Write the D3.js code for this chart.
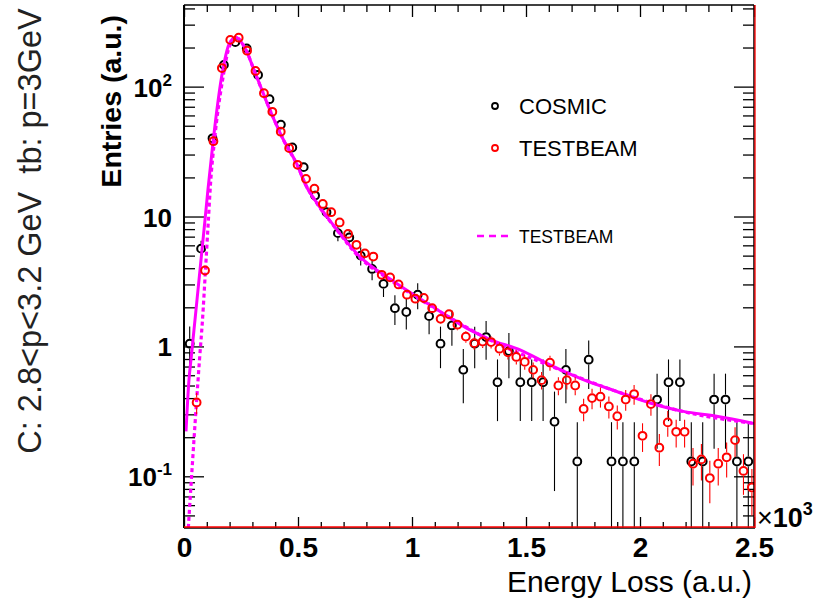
<!DOCTYPE html>
<html><head><meta charset="utf-8">
<script src="https://cdn.jsdelivr.net/npm/d3@7"></script>
<style>
body{margin:0;background:#fff;}
svg{display:block;font-family:"Liberation Sans",Arial,Helvetica,sans-serif;}
text{white-space:pre;}
</style>
</head><body>
<svg id="chart" width="823" height="601"></svg>
<script>
// ---------------- data ----------------
const xTickValues = [0, 0.5, 1, 1.5, 2, 2.5];
const xTickLabels = ["0", "0.5", "1", "1.5", "2", "2.5"];
const yTickValues = [0.1, 1, 10, 100];
const yTickBase = ["10", "1", "10", "10"];
const yTickExp = ["-1", "", "", "2"];

const legendLabels = ["COSMIC", "TESTBEAM", "TESTBEAM"];
const titleLeft = "C: 2.8<p<3.2 GeV  tb: p=3GeV";
const titleX = "Energy Loss (a.u.)";
const titleY = "Entries (a.u.)";

// COSMIC histogram: 50 bins of 0.05 (x10^3)
const cosmicBinWidth = 0.05;
const cosmicValues = [1.05, 5.66, 40, 147, 220, 197, 123, 80, 51, 34,
  24, 14.5, 10.8, 7.45, 6.9, 5.0, 3.95, 3.03, 1.97, 1.84,
  2.5, 1.71, 1.05, 1.45, 0.66, 1.05, 1.18, 0.53, 0.92, 0.53,
  0.53, 0.53, 0.263, 0.66, 0.13, 0.79, null, 0.13, 0.13, 0.13,
  null, 0.39, 0.53, 0.53, 0.13, 0.13, 0.39, 0.39, 0.13, 0.13];
const cosmicErrors = [0.372, 0.862, 2.29, 4.4, 5.38, 5.09, 4.02, 3.24, 2.59, 2.12,
  1.78, 1.38, 1.19, 0.99, 0.95, 0.81, 0.72, 0.63, 0.51, 0.49,
  0.57, 0.47, 0.37, 0.44, 0.295, 0.37, 0.39, 0.264, 0.35, 0.264,
  0.264, 0.264, 0.186, 0.295, 0.131, 0.32, null, 0.131, 0.131, 0.131,
  null, 0.227, 0.264, 0.264, 0.131, 0.131, 0.227, 0.227, 0.131, 0.131];

// TESTBEAM histogram: 68 bins
const testbeamBinWidth = 0.0369;
const testbeamValues = [null, 0.37, 3.84, 38, 139, 229, 238, 189, 132, 89,
  64, 45, 33.6, 25, 19.5, 16.4, 12.5, 10.8, 9.0, 7.35,
  6.06, 5.2, 4.92, 3.56, 3.4, 3.0, 2.5, 2.33, 2.36, 1.97,
  1.63, 1.77, 1.47, 1.19, 1.06, 1.09, 1.08, 0.96, 0.9, 0.83,
  0.76, 0.66, 0.55, 0.75, 0.5, 0.55, 0.5, 0.33, 0.40, 0.41,
  0.345, 0.29, 0.39, 0.43, 0.205, 0.36, 0.166, 0.26, 0.22, 0.22,
  0.125, 0.135, 0.097, 0.125, 0.14, 0.19, 0.11, 0.082];
const testbeamErrors = [null, 0.069, 0.22, 0.70, 1.33, 1.71, 1.75, 1.56, 1.30, 1.07,
  0.905, 0.76, 0.656, 0.566, 0.5, 0.458, 0.4, 0.372, 0.339, 0.307,
  0.279, 0.258, 0.251, 0.213, 0.209, 0.196, 0.179, 0.173, 0.174, 0.159,
  0.144, 0.151, 0.137, 0.123, 0.116, 0.118, 0.118, 0.111, 0.107, 0.103,
  0.099, 0.092, 0.084, 0.099, 0.08, 0.084, 0.08, 0.065, 0.072, 0.072,
  0.066, 0.061, 0.071, 0.074, 0.051, 0.068, 0.046, 0.058, 0.053, 0.053,
  0.04, 0.042, 0.035, 0.04, 0.042, 0.049, 0.038, 0.032];

// fit curves
const fitSolidX = [0.0088, 0.0219, 0.0307, 0.0482, 0.0702, 0.0921, 0.105, 0.1285, 0.165, 0.199,
  0.228, 0.26, 0.319, 0.377, 0.436, 0.494, 0.531, 0.582, 0.655, 0.772,
  0.904, 1.123, 1.254, 1.342, 1.474, 1.605, 1.751, 1.898, 2.044, 2.19, 2.336, 2.5];
const fitSolidY = [0.222, 0.555, 0.79, 1.6, 3.89, 9.4, 16.1, 39, 119, 215,
  240, 209, 119, 66, 39, 25.5, 17.8, 12.8, 8.6, 4.9,
  3.3, 1.86, 1.34, 1.13, 0.94, 0.72, 0.555, 0.45, 0.367, 0.316, 0.29, 0.255];
const fitDashedX = [0.0189, 0.0351, 0.0526, 0.068, 0.0811, 0.0943, 0.107, 0.116, 0.134, 0.169,
  0.202, 0.232, 0.263, 0.32, 0.379, 0.439, 0.496, 0.535, 0.583, 0.658,
  0.772, 0.904, 1.123, 1.342, 1.605, 1.898, 2.19, 2.5];
const fitDashedY = [0.040, 0.112, 0.326, 0.79, 1.6, 3.9, 9.4, 17.5, 39, 112,
  210, 237, 205, 117, 65, 38, 25, 17.4, 12.6, 8.4,
  4.8, 3.25, 1.85, 1.12, 0.71, 0.45, 0.315, 0.255];

// ---------------- drawing ----------------
const svg = d3.select("#chart");
const L = 184, R = 754, T = 5, B = 528;
const x = d3.scaleLinear().domain([0, 2.5]).range([L, R]);
const y = d3.scaleLog().domain([0.04, 425]).range([B, T]);

svg.append("rect").attr("width", 823).attr("height", 601).attr("fill", "#fff");

svg.append("defs").append("clipPath").attr("id", "plotclip")
  .append("rect").attr("x", L).attr("y", T).attr("width", R - L).attr("height", B - T);

// minor tick values
const xMinor = d3.range(0, 26).map(i => i / 10).filter(v => !xTickValues.some(t => Math.abs(t - v) < 1e-9));
const yMinor = [];
[0.01, 0.1, 1, 10, 100].forEach(dec => { for (let k = 2; k <= 9; k++) { const v = k * dec; if (v > 0.04 && v < 425) yMinor.push(v); } });

function styleAxis(g) { g.select(".domain").remove(); g.selectAll(".tick line").attr("stroke", "#000").attr("stroke-width", 1.3); }

// bottom axis (ticks upward)
const gb = svg.append("g").attr("transform", `translate(0,${B})`)
  .call(d3.axisBottom(x).tickValues(xTickValues).tickSize(-11).tickPadding(9).tickFormat((d, i) => xTickLabels[i]));
styleAxis(gb);
gb.selectAll("text").attr("font-size", 28).attr("font-weight", "bold").attr("fill", "#000")
  .attr("font-family", "'Liberation Sans',Arial,sans-serif");
styleAxis(svg.append("g").attr("transform", `translate(0,${B})`)
  .call(d3.axisBottom(x).tickValues(xMinor).tickSize(-6).tickFormat("")));
// top axis (ticks downward)
styleAxis(svg.append("g").attr("transform", `translate(0,${T})`)
  .call(d3.axisTop(x).tickValues(xTickValues).tickSize(-12).tickFormat("")));
styleAxis(svg.append("g").attr("transform", `translate(0,${T})`)
  .call(d3.axisTop(x).tickValues(xMinor).tickSize(-7).tickFormat("")));
// left axis
styleAxis(svg.append("g").attr("transform", `translate(${L},0)`)
  .call(d3.axisLeft(y).tickValues(yTickValues).tickSize(-20).tickFormat("")));
styleAxis(svg.append("g").attr("transform", `translate(${L},0)`)
  .call(d3.axisLeft(y).tickValues(yMinor).tickSize(-11).tickFormat("")));
// right axis
styleAxis(svg.append("g").attr("transform", `translate(${R},0)`)
  .call(d3.axisRight(y).tickValues(yTickValues).tickSize(-20).tickFormat("")));
styleAxis(svg.append("g").attr("transform", `translate(${R},0)`)
  .call(d3.axisRight(y).tickValues(yMinor).tickSize(-11).tickFormat("")));

// y tick labels with superscripts
yTickValues.forEach((v, i) => {
  const t = svg.append("text").attr("x", 172).attr("y", y(v) + 10)
    .attr("text-anchor", "end").attr("font-weight", "bold").attr("font-size", 26).attr("fill", "#000");
  t.append("tspan").text(yTickBase[i]);
  if (yTickExp[i]) t.append("tspan").attr("dy", -11).attr("font-size", 17).text(yTickExp[i]);
});

// x10^3 multiplier
const mult = svg.append("text").attr("x", 757).attr("y", 527).attr("fill", "#000").attr("font-size", 27);
mult.append("tspan").text("\u00d7");
mult.append("tspan").attr("font-weight", "bold").text("10");
mult.append("tspan").attr("font-weight", "bold").attr("font-size", 18).attr("dy", -12).text("3");

// plot content
const plot = svg.append("g").attr("clip-path", "url(#plotclip)");
const MR = 3.9;

function drawHist(values, errors, bw, color) {
  const pts = values.map((v, i) => ({ x: (i + 0.5) * bw, v: v, e: errors[i] })).filter(d => d.v != null);
  const g = plot.append("g");
  pts.forEach(d => {
    const cy = y(d.v), cx = x(d.x);
    const top = y(d.v + d.e);
    const lo = d.v - d.e;
    const bot = lo > 0.04 ? y(lo) : B + 2;
    if (cy - MR - 1 > top) g.append("line").attr("x1", cx).attr("x2", cx).attr("y1", top).attr("y2", cy - MR - 1)
      .attr("stroke", color).attr("stroke-width", 1.1);
    if (bot > cy + MR + 1) g.append("line").attr("x1", cx).attr("x2", cx).attr("y1", cy + MR + 1).attr("y2", bot)
      .attr("stroke", color).attr("stroke-width", 1.1);
  });
  return { g, pts };
}
function drawMarkers(h, color) {
  h.g.selectAll("circle.m").data(h.pts).join("circle").attr("class", "m")
    .attr("cx", d => x(d.x)).attr("cy", d => y(d.v)).attr("r", MR)
    .attr("fill", "none").attr("stroke", color).attr("stroke-width", 2);
}

const hc = drawHist(cosmicValues, cosmicErrors, cosmicBinWidth, "#000");
drawMarkers(hc, "#000");

const line = d3.line().x(d => x(d[0])).y(d => y(d[1])).curve(d3.curveMonotoneX);
plot.append("path").attr("d", line(fitDashedX.map((v, i) => [v, fitDashedY[i]])))
  .attr("fill", "none").attr("stroke", "#ff00ff").attr("stroke-width", 3.2).attr("stroke-dasharray", "4,3");
plot.append("path").attr("d", line(fitSolidX.map((v, i) => [v, fitSolidY[i]])))
  .attr("fill", "none").attr("stroke", "#ff00ff").attr("stroke-width", 3);

const ht = drawHist(testbeamValues, testbeamErrors, testbeamBinWidth, "#ff0000");
drawMarkers(ht, "#ff0000");

// frame
svg.append("line").attr("x1", L).attr("x2", L).attr("y1", T).attr("y2", B).attr("stroke", "#000").attr("stroke-width", 2);
svg.append("line").attr("x1", L).attr("x2", R).attr("y1", T).attr("y2", T).attr("stroke", "#000").attr("stroke-width", 1.5);
svg.append("line").attr("x1", L).attr("x2", R + 1).attr("y1", B).attr("y2", B).attr("stroke", "#000").attr("stroke-width", 1.5);
svg.append("line").attr("x1", R).attr("x2", R).attr("y1", T).attr("y2", B).attr("stroke", "#000").attr("stroke-width", 1.5);
svg.append("line").attr("x1", L).attr("x2", R + 1).attr("y1", B - 1).attr("y2", B - 1).attr("stroke", "#ff0000").attr("stroke-width", 1.3);
svg.append("line").attr("x1", R + 1).attr("x2", R + 1).attr("y1", T).attr("y2", B).attr("stroke", "#ff0000").attr("stroke-width", 1.3);

// legend
svg.append("circle").attr("cx", 495).attr("cy", 106).attr("r", 3).attr("fill", "none").attr("stroke", "#000").attr("stroke-width", 1.8);
svg.append("circle").attr("cx", 495).attr("cy", 148).attr("r", 3).attr("fill", "none").attr("stroke", "#ff0000").attr("stroke-width", 1.8);
svg.append("text").attr("x", 519).attr("y", 114).attr("font-size", 22).attr("fill", "#000").text(legendLabels[0]);
svg.append("text").attr("x", 519).attr("y", 156).attr("font-size", 22).attr("fill", "#000").text(legendLabels[1]);
svg.append("line").attr("x1", 477).attr("x2", 511).attr("y1", 236).attr("y2", 236)
  .attr("stroke", "#ff00ff").attr("stroke-width", 2.5).attr("stroke-dasharray", "7,5");
svg.append("text").attr("x", 519).attr("y", 243).attr("font-size", 17.5).attr("fill", "#000").text(legendLabels[2]);

// titles
svg.append("text").attr("x", 752).attr("y", 592).attr("text-anchor", "end").attr("font-size", 30).attr("fill", "#000").text(titleX);
svg.append("text").attr("transform", "translate(121,15) rotate(-90)").attr("text-anchor", "end")
  .attr("font-size", 28.5).attr("font-weight", "bold").attr("fill", "#000").text(titleY);
svg.append("text").attr("transform", "translate(41,231) rotate(-90)").attr("text-anchor", "middle")
  .attr("font-size", 32.5).attr("fill", "#222").text(titleLeft);
</script>
</body></html>
